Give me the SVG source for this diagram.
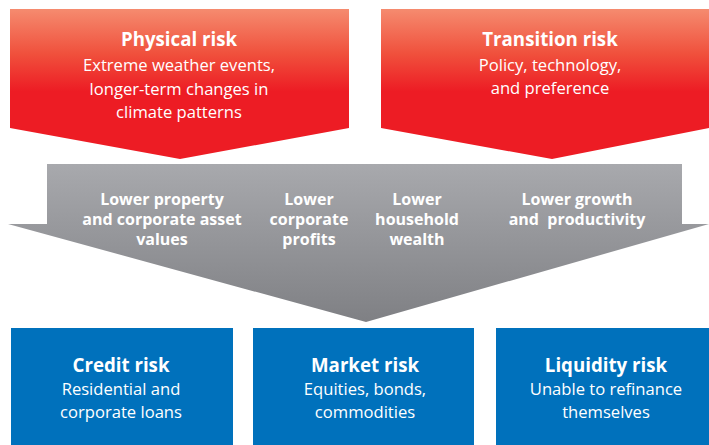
<svg xmlns="http://www.w3.org/2000/svg" width="709" height="445" viewBox="0 0 709 445">
<defs>
<linearGradient id="red" gradientUnits="userSpaceOnUse" x1="0" y1="9" x2="0" y2="159">
<stop offset="0" stop-color="#f58b6f"/>
<stop offset="0.3" stop-color="#f0503c"/>
<stop offset="0.55" stop-color="#ed1c24"/>
<stop offset="1" stop-color="#ed1c24"/>
</linearGradient>
<linearGradient id="grey" gradientUnits="userSpaceOnUse" x1="0" y1="164" x2="0" y2="322">
<stop offset="0" stop-color="#a8a9ad"/>
<stop offset="1" stop-color="#7f8084"/>
</linearGradient>
</defs>
<style>
text{font-family:"Open Sans","Noto Sans","Liberation Sans",sans-serif;fill:#fff;text-anchor:middle}
.t{font-weight:bold;font-size:18.7px}
.s{font-size:16.6px}
.g{font-weight:bold;font-size:16px}
.blue{fill:#0071bc}
</style>
<g id="physical-risk">
<polygon points="10,9 349,9 349,128 180,159 10,128" fill="url(#red)"/>
<text class="t" x="179" y="46">Physical risk</text>
<text class="s" x="179" y="71">Extreme weather events,</text>
<text class="s" x="179" y="94.5">longer-term changes in</text>
<text class="s" x="179" y="118">climate patterns</text>
</g>
<g id="transition-risk">
<polygon points="381,9 709,9 709,128 552,159 381,128" fill="url(#red)"/>
<text class="t" x="550" y="46">Transition risk</text>
<text class="s" x="550" y="70.5">Policy, technology,</text>
<text class="s" x="550" y="94">and preference</text>
</g>
<g id="impacts">
<polygon points="47,164 682,164 682,224 709,224 366,322 8,224 47,224" fill="url(#grey)"/>
<text class="g" x="162" y="205">Lower property</text>
<text class="g" x="162" y="225">and corporate asset</text>
<text class="g" x="162" y="245">values</text>
<text class="g" x="309" y="205">Lower</text>
<text class="g" x="309" y="225">corporate</text>
<text class="g" x="309" y="245">profits</text>
<text class="g" x="417" y="205">Lower</text>
<text class="g" x="417" y="225">household</text>
<text class="g" x="417" y="245">wealth</text>
<text class="g" x="577" y="205">Lower growth</text>
<text class="g" x="577" y="225" xml:space="preserve">and  productivity</text>
</g>
<g id="credit-risk">
<rect class="blue" x="11" y="328" width="222" height="117"/>
<text class="t" x="121" y="372">Credit risk</text>
<text class="s" x="121" y="395">Residential and</text>
<text class="s" x="121" y="418">corporate loans</text>
</g>
<g id="market-risk">
<rect class="blue" x="253" y="328" width="221" height="117"/>
<text class="t" x="365" y="372">Market risk</text>
<text class="s" x="365" y="395">Equities, bonds,</text>
<text class="s" x="365" y="418">commodities</text>
</g>
<g id="liquidity-risk">
<rect class="blue" x="496" y="328" width="213" height="117"/>
<text class="t" x="606" y="372">Liquidity risk</text>
<text class="s" x="606" y="395">Unable to refinance</text>
<text class="s" x="606" y="418">themselves</text>
</g>
<g id="connectors"></g>
</svg>
